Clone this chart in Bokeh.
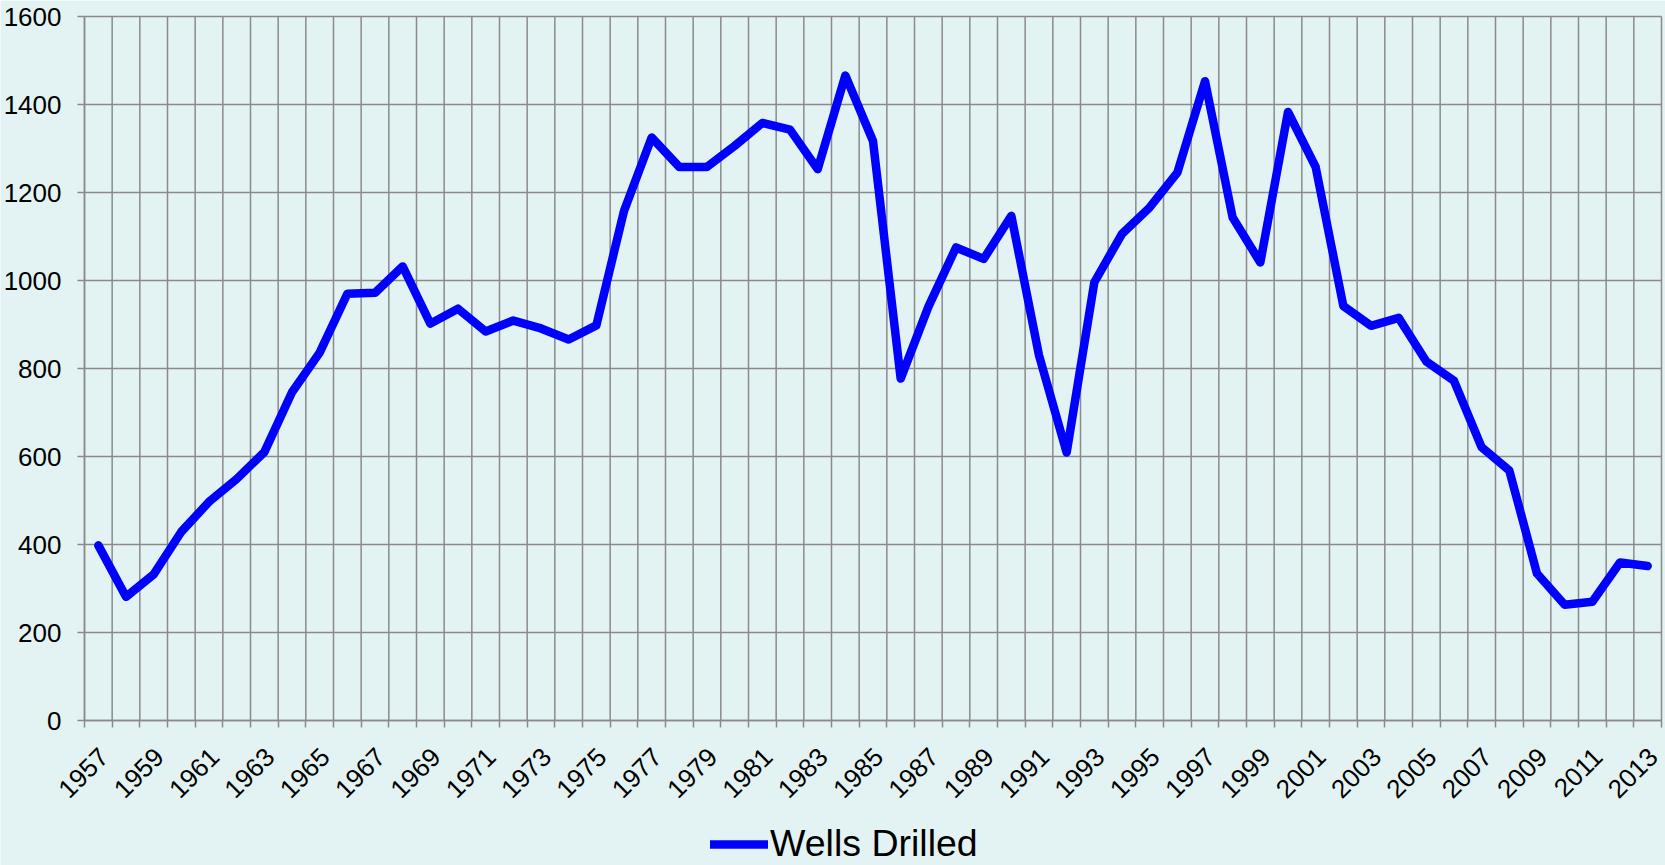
import numpy as np
from bokeh.plotting import figure
from bokeh.models import Range1d, FixedTicker, Legend, LegendItem
from bokeh.embed import file_html
from bokeh.resources import INLINE

# ---- data ----
years = list(range(1957, 2014))
wells = [398, 281, 332, 429, 497, 549, 610, 746, 836, 970, 972, 1032, 902, 936, 884,
         909, 891, 866, 898, 1158, 1325, 1258, 1258, 1306, 1358, 1343, 1253, 1466, 1317,
         777, 940, 1075, 1049, 1147, 830, 609, 996, 1106, 1166, 1245, 1453, 1143, 1041, 1383,
         1258, 942, 897, 915, 816, 772, 621, 568, 334, 263, 270, 359, 351]
label_years = list(range(1957, 2014, 2))
y_ticks = list(range(0, 1601, 200))
series_name = "Wells Drilled"

# ---- style / layout (pixels) ----
BG = "#E3F3F3"
GRID = "#8A8A8A"
FONT = "Liberation Sans"
LABEL_SHIFT = 0.2
W, H = 1665, 865
PLOT_LEFT, PLOT_RIGHT, ZERO_Y, TOP_Y = 84, 1661, 720, 16   # plot area edges on the page

boundaries = [y - 0.5 for y in years] + [years[-1] + 0.5]
x0, x1 = boundaries[0], boundaries[-1]
ppx = (PLOT_RIGHT - PLOT_LEFT) / (x1 - x0)
ymax = y_ticks[-1]
ppy = (ZERO_Y - TOP_Y) / ymax
x_range = Range1d(x0 - PLOT_LEFT / ppx, x0 + (W - PLOT_LEFT) / ppx)
y_range = Range1d(-(H - ZERO_Y) / ppy, ZERO_Y / ppy)

p = figure(width=W, height=H, output_backend="svg", toolbar_location=None,
           x_range=x_range, y_range=y_range,
           min_border=0, min_border_left=0, min_border_right=0,
           min_border_top=0, min_border_bottom=0,
           background_fill_color=BG, border_fill_color=BG, outline_line_color=None)
p.styles = {"position": "absolute", "left": "0px", "top": "0px"}
p.xgrid.visible = False
p.ygrid.visible = False

# grid lines (category boundaries and value ticks)
p.segment(x0=boundaries, x1=boundaries, y0=[0] * len(boundaries), y1=[ymax] * len(boundaries),
          line_color=GRID, line_width=1.5)
p.segment(x0=[x0] * len(y_ticks), x1=[x1] * len(y_ticks), y0=y_ticks, y1=y_ticks,
          line_color=GRID, line_width=1.5)

r = p.line(years, wells, line_color="#0000FF", line_width=8.5,
           line_join="round", line_cap="round")

# x axis, fixed at value 0
xa = p.xaxis[0]
xa.fixed_location = 0
xa.bounds = (x0, x1)
xticks = [y + LABEL_SHIFT for y in label_years]
xa.ticker = FixedTicker(ticks=xticks, minor_ticks=boundaries)
xa.major_label_overrides = {t: str(y) for t, y in zip(xticks, label_years)}
xa.major_label_orientation = np.pi / 4
xa.major_label_text_font = FONT
xa.major_label_text_font_size = "26px"
xa.major_label_text_color = "black"
xa.major_label_standoff = 25
xa.major_tick_line_color = None
xa.major_tick_out = 0
xa.major_tick_in = 0
xa.minor_tick_out = 7
xa.minor_tick_in = 0
xa.minor_tick_line_color = GRID
xa.minor_tick_line_width = 1.5
xa.axis_line_color = GRID
xa.axis_line_width = 1.5

# y axis, fixed at the first category boundary
ya = p.yaxis[0]
ya.fixed_location = x0
ya.bounds = (0, ymax)
ya.ticker = FixedTicker(ticks=y_ticks)
ya.major_label_text_font = FONT
ya.major_label_text_font_size = "26px"
ya.major_label_text_color = "black"
ya.major_label_standoff = 16
ya.major_tick_out = 7
ya.major_tick_in = 0
ya.major_tick_line_color = GRID
ya.major_tick_line_width = 1.5
ya.minor_tick_line_color = None
ya.axis_line_color = GRID
ya.axis_line_width = 1.5

legend = Legend(items=[LegendItem(label=series_name, renderers=[r])],
                location=(710, 0), orientation="horizontal",
                background_fill_alpha=0, border_line_color=None,
                padding=0, margin=0, spacing=0,
                glyph_width=58, glyph_height=20, label_standoff=2,
                label_text_font=FONT, label_text_font_size="37.5px",
                label_text_color="black")
p.add_layout(legend)

open("out.html", "w").write(file_html(p, INLINE))
